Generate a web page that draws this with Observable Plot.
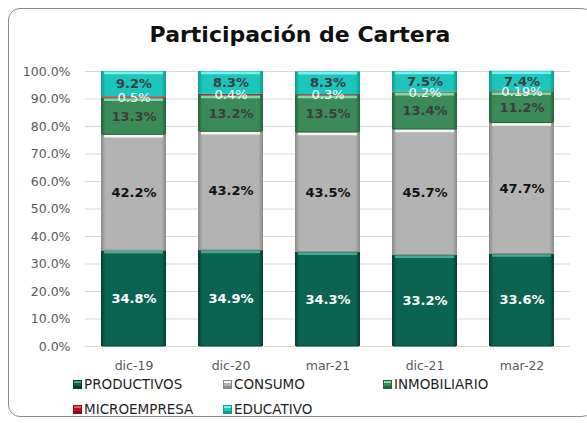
<!DOCTYPE html>
<html><head><meta charset="utf-8">
<script src="https://cdn.jsdelivr.net/npm/d3@7"></script>
<script src="https://cdn.jsdelivr.net/npm/@observablehq/plot@0.6"></script>
<style>
body{margin:0;background:#fff;font-family:"DejaVu Sans",sans-serif;}
#wrap{position:relative;width:587px;height:423px;overflow:hidden;}
#frame{position:absolute;left:8px;top:8px;width:586px;height:409px;border:1px solid #8c8c8c;border-radius:12px;box-sizing:border-box;}
#title{position:absolute;left:0;width:600px;top:21px;line-height:28px;text-align:center;font-weight:bold;font-size:22px;color:#111;}
#chart{position:absolute;left:0;top:0;}
.leg{position:absolute;display:flex;align-items:center;height:16px;font-size:13.5px;color:#1f1f1f;white-space:nowrap;}
.sw{width:9px;height:9px;margin-right:2px;box-sizing:border-box;}
</style></head>
<body><div id="wrap"><div id="frame"></div><div id="title">Participación de Cartera</div><div id="chart"></div><div id="legend"></div></div>
<script>
const dates = ["dic-19","dic-20","mar-21","dic-21","mar-22"];
const series = ["PRODUCTIVOS","CONSUMO","INMOBILIARIO","MICROEMPRESA","EDUCATIVO"];
const productivos = [34.8,34.9,34.3,33.2,33.6];
const consumo = [42.2,43.2,43.5,45.7,47.7];
const inmobiliario = [13.3,13.2,13.5,13.4,11.2];
const microempresa = [0.5,0.4,0.3,0.2,0.19];
const educativo = [9.2,8.3,8.3,7.5,7.4];
const yTicks = [0,10,20,30,40,50,60,70,80,90,100];

const values = [productivos, consumo, inmobiliario, microempresa, educativo];
const gid = ["g-prod","g-cons","g-inmo","g-micro","g-edu"];
const base = ["#0b6352","#b3b3b3","#3a8b58","#b8102e","#1cc6bd"];
const edge = ["#053f34","#8a8a8a","#24623c","#8a0a1f","#0f9a93"];
const hl = ["#45a993","#f4f4f4","#86d6a0","none","#7af0ea"];
const labelColor = ["#ffffff","#111111","#3d3d3d","#ffffff","#3d3d3d"];

const table = [];
series.forEach((s, i) => dates.forEach((d, j) => table.push({
  series: s, si: i, date: d, value: values[i][j]
})));

const svg = Plot.plot({
  width: 587, height: 380,
  marginLeft: 85, marginRight: 17, marginTop: 71, marginBottom: 34,
  style: {fontFamily: "DejaVu Sans", background: "transparent", overflow: "visible"},
  x: {domain: dates, paddingInner: 0.33, paddingOuter: 0.165, label: null, tickSize: 0, tickPadding: 15},
  y: {domain: [0, 100], ticks: yTicks, tickFormat: d => d.toFixed(1) + "%", label: null, tickSize: 0, tickPadding: 15},
  color: {type: "identity"},
  marks: [
    Plot.gridY(yTicks, {stroke: "#d9d9d9", strokeOpacity: 1}),
    Plot.axisY({ticks: yTicks, tickFormat: d => d.toFixed(1) + "%", tickSize: 0, tickPadding: 15, fontSize: 12.5, fill: "#595959", label: null}),
    Plot.axisX({tickSize: 0, tickPadding: 15, fontSize: 12.5, fill: "#595959", label: null}),
    Plot.barY(table, Plot.stackY({x: "date", y: "value", fill: d => `url(#${gid[d.si]})`, order: null})),
    Plot.tickY(table, Plot.stackY1({x: "date", y: "value", stroke: d => d.si >= 3 ? "none" : edge[d.si], strokeWidth: 1, dy: -0.5, inset: 1, order: null})),
    Plot.tickY(table, Plot.stackY2({x: "date", y: "value", stroke: d => hl[d.si], strokeWidth: 2.5, dy: 1.5, inset: 3, order: null})),
    Plot.text(table, Plot.stackY({x: "date", y: "value", text: d => d.si === 3 ? null : d.value + "%", fill: d => labelColor[d.si],
      fontWeight: "bold", fontSize: 13, order: null})),
    Plot.text(table, Plot.stackY({x: "date", y: "value", text: d => d.si === 3 ? d.value + "%" : null, fill: d => labelColor[d.si],
      fontWeight: "normal", fontSize: 13, order: null}))
  ]
});

// gradients
const defs = d3.select(svg).insert("defs", ":first-child");
gid.forEach((id, i) => {
  const g = defs.append("linearGradient").attr("id", id).attr("x1", 0).attr("x2", 1).attr("y1", 0).attr("y2", 0);
  g.append("stop").attr("offset", "0%").attr("stop-color", edge[i]);
  g.append("stop").attr("offset", "7%").attr("stop-color", base[i]);
  g.append("stop").attr("offset", "93%").attr("stop-color", base[i]);
  g.append("stop").attr("offset", "100%").attr("stop-color", edge[i]);
});
document.getElementById("chart").appendChild(svg);

// legend
const legPos = [[73, 376], [223, 376], [383, 376], [73, 401], [223, 401]];
const legend = document.getElementById("legend");
series.forEach((s, i) => {
  const el = document.createElement("div");
  el.className = "leg";
  el.style.left = legPos[i][0] + "px";
  el.style.top = legPos[i][1] + "px";
  el.innerHTML = `<div class="sw" style="background:linear-gradient(${i === 3 ? "#f05070" : hl[i]} 0 25%, ${base[i]} 25% 75%, ${edge[i]} 75%);border:1px solid ${edge[i]}"></div><span>${s}</span>`;
  legend.appendChild(el);
});
</script></body></html>
